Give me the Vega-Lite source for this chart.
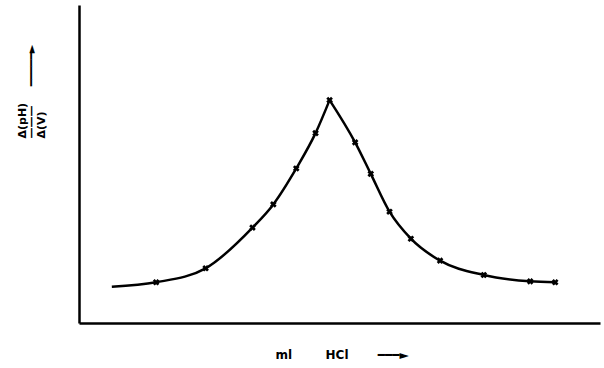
{
  "$schema": "https://vega.github.io/schema/vega-lite/v6.json",
  "width": 521,
  "height": 318,
  "autosize": "none",
  "padding": {"left": 79, "top": 5, "right": 4, "bottom": 45},
  "background": "white",
  "config": {"view": {"stroke": null}},
  "data": {
    "values": [
      {"x": 0.63, "y": 1.14, "side": "left", "marker": false},
      {"x": 1.48, "y": 1.28, "side": "left", "marker": true},
      {"x": 2.43, "y": 1.72, "side": "left", "marker": true},
      {"x": 3.33, "y": 3.0, "side": "left", "marker": true},
      {"x": 3.73, "y": 3.73, "side": "left", "marker": true},
      {"x": 4.17, "y": 4.86, "side": "left", "marker": true},
      {"x": 4.54, "y": 5.97, "side": "left", "marker": true},
      {"x": 4.81, "y": 7.01, "side": "left", "marker": true},
      {"x": 4.81, "y": 7.01, "side": "right", "marker": false},
      {"x": 5.3, "y": 5.68, "side": "right", "marker": true},
      {"x": 5.6, "y": 4.69, "side": "right", "marker": true},
      {"x": 5.96, "y": 3.5, "side": "right", "marker": true},
      {"x": 6.37, "y": 2.65, "side": "right", "marker": true},
      {"x": 6.93, "y": 1.96, "side": "right", "marker": true},
      {"x": 7.77, "y": 1.51, "side": "right", "marker": true},
      {"x": 8.66, "y": 1.31, "side": "right", "marker": true},
      {"x": 9.14, "y": 1.28, "side": "right", "marker": true}
    ]
  },
  "encoding": {
    "x": {
      "field": "x",
      "type": "quantitative",
      "scale": {"domain": [0, 10], "nice": false, "zero": false},
      "axis": {
        "domainColor": "black",
        "domainWidth": 2.5,
        "ticks": false,
        "labels": false,
        "grid": false,
        "title": "ml\u00a0\u00a0\u00a0\u00a0\u00a0\u00a0\u00a0\u00a0HCl\u00a0\u00a0\u00a0\u00a0\u00a0\u00a0\u00a0━━━►",
        "titleFont": "DejaVu Sans",
        "titleFontSize": 12,
        "titleFontWeight": "bold",
        "titleColor": "black",
        "titleAlign": "left",
        "titleBaseline": "middle",
        "titleX": 196,
        "titleY": 31
      }
    },
    "y": {
      "field": "y",
      "type": "quantitative",
      "scale": {"domain": [0, 10], "nice": false, "zero": false},
      "axis": {
        "domainColor": "black",
        "domainWidth": 2.5,
        "ticks": false,
        "labels": false,
        "grid": false,
        "title": ["Δ(pH)", "———\u00a0\u00a0\u00a0\u00a0\u00a0━━━━━►", "Δ(V)"],
        "titleFont": "DejaVu Sans",
        "titleFontSize": 11,
        "titleFontWeight": "bold",
        "titleColor": "black",
        "titleAngle": -90,
        "titleAlign": "left",
        "titleBaseline": "middle",
        "titleLineHeight": 9.5,
        "titleX": -57,
        "titleY": 133
      }
    }
  },
  "layer": [
    {
      "mark": {"type": "line", "interpolate": "monotone", "color": "black", "strokeWidth": 2.5},
      "encoding": {"detail": {"field": "side", "type": "nominal"}}
    },
    {
      "transform": [{"filter": "datum.marker"}],
      "mark": {"type": "point", "shape": "cross", "angle": 45, "filled": true, "color": "black", "size": 45, "opacity": 1}
    }
  ]
}
